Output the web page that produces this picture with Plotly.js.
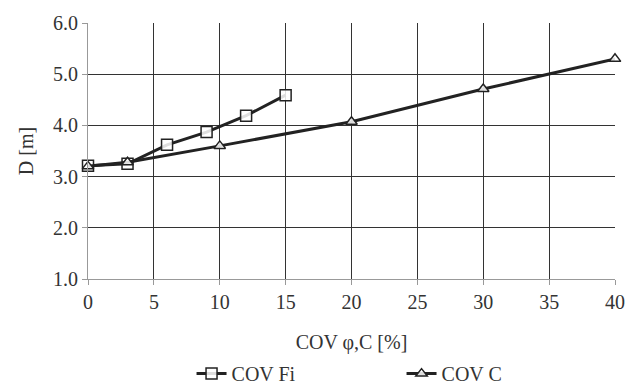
<!DOCTYPE html>
<html><head><meta charset="utf-8">
<script src="https://cdn.plot.ly/plotly-3.0.1.min.js"></script>
<style>html,body{margin:0;padding:0;background:#fff}#c{width:628px;height:387px}</style>
</head><body><div id="c"></div>
<script>
const fiX = [0, 3, 6, 9, 12, 15];
const fiY = [3.21, 3.25, 3.62, 3.87, 4.19, 4.59];
const cX = [0, 3, 10, 20, 30, 40];
const cY = [3.20, 3.28, 3.60, 4.07, 4.71, 5.30];
const xTicks = [0, 5, 10, 15, 20, 25, 30, 35, 40];
const yTicks = [1, 2, 3, 4, 5, 6];
const lineCol = '#222';
const font = {family: '"Liberation Serif", "Times New Roman", serif', size: 20, color: '#333'};
const traces = [
  {x: fiX, y: fiY, name: 'COV Fi', mode: 'lines+markers', type: 'scatter', cliponaxis: false,
   line: {color: lineCol, width: 3},
   marker: {symbol: 'square', size: 11, color: 'rgba(255,255,255,0.85)', line: {color: lineCol, width: 1.5}}},
  {x: cX, y: cY, name: 'COV C', mode: 'lines+markers', type: 'scatter', cliponaxis: false,
   line: {color: lineCol, width: 3},
   marker: {symbol: 'triangle-up', size: 10, color: 'rgba(255,255,255,0.85)', line: {color: lineCol, width: 1.5}}}
];
const layout = {
  width: 628, height: 387,
  margin: {l: 88, r: 13, t: 23, b: 108, autoexpand: false},
  paper_bgcolor: '#fff', plot_bgcolor: '#fff',
  font: font,
  showlegend: true,
  legend: {orientation: 'h', x: 0.305, xanchor: 'left', xref: 'container', y: 0.085, yanchor: 'top', yref: 'container',
           font: font, itemwidth: 30, entrywidth: 165, tracegroupgap: 0},
  xaxis: {
    range: [0, 40], tickvals: xTicks, ticktext: xTicks.map(String),
    showgrid: true, gridcolor: '#333', gridwidth: 1,
    zeroline: false, showline: true, linecolor: '#999', linewidth: 1,
    ticks: 'outside', ticklen: 5, tickcolor: '#999',
    title: {text: 'COV φ,C [%]', font: font, standoff: 22},
    tickfont: font, automargin: false
  },
  yaxis: {
    range: [1, 6], tickvals: yTicks, ticktext: yTicks.map(v => v.toFixed(1)),
    showgrid: true, gridcolor: '#333', gridwidth: 1,
    zeroline: false, showline: true, linecolor: '#999', linewidth: 1,
    ticks: 'outside', ticklen: 5, tickcolor: '#999',
    title: {text: 'D [m]', font: font, standoff: 14},
    tickfont: font, automargin: false
  }
};
Plotly.newPlot('c', traces, layout, {displayModeBar: false, staticPlot: true});
</script></body></html>
